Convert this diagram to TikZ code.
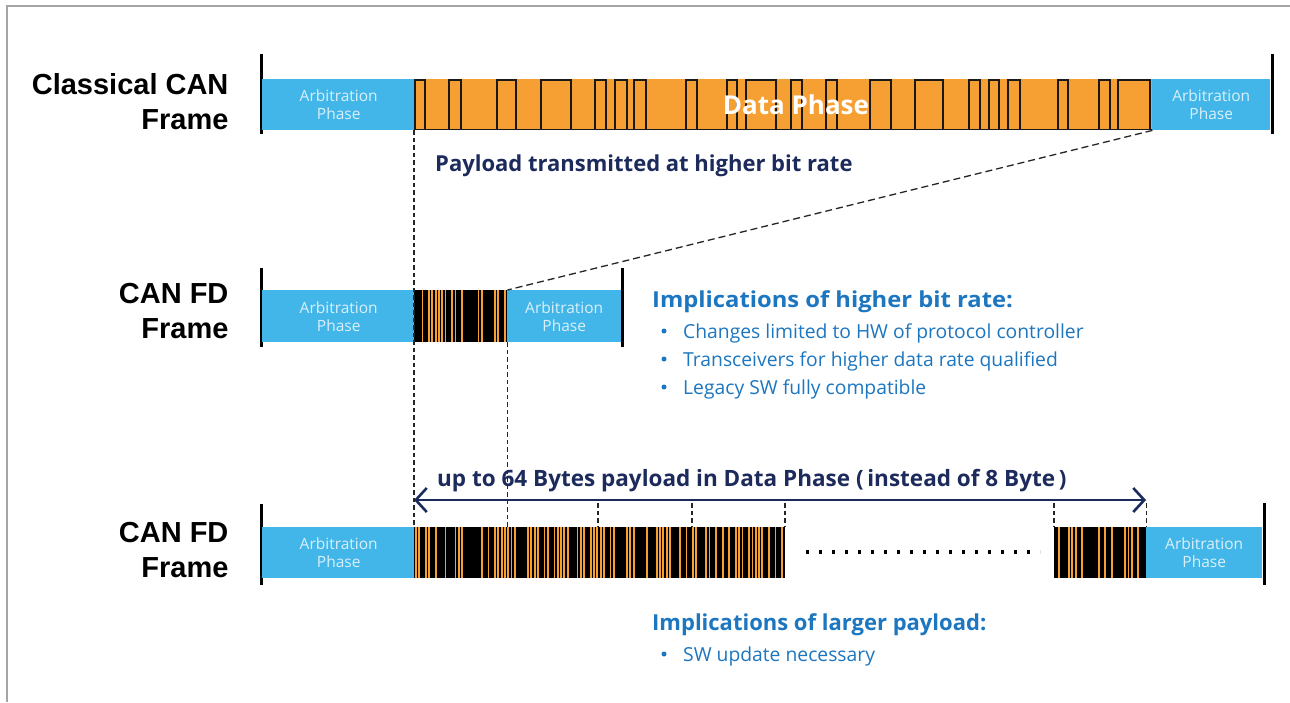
\documentclass[tikz,border=0pt]{standalone}
\usepackage{fontspec}
\setmainfont{Open Sans}
\newfontfamily\labfont{Liberation Sans}
\usetikzlibrary{arrows.meta,calc}
\definecolor{canblue}{RGB}{66,182,232}
\definecolor{canorange}{RGB}{246,160,52}
\definecolor{navy}{RGB}{28,42,92}
\definecolor{txtblue}{RGB}{28,118,192}
\definecolor{framegrey}{RGB}{165,165,165}
\newcommand\mybarcode[5]{%
  \pgfmathsetseed{#5}%
  \pgfmathtruncatemacro\nst{#3/3.3-1}%
  \foreach \k in {0,...,\nst}{%
    \pgfmathtruncatemacro\on{rnd<0.62}%
    \ifnum\on=1 \fill[canorange] ({#1+0.9+\k*3.3},#2) rectangle ++(1.8,#4);\fi
  }%
}
\begin{document}
\begin{tikzpicture}[x=1pt,y=-1pt,
  phase/.style={fill=canblue, inner sep=0pt, anchor=north west, text=white!80!canblue,
    font=\fontsize{15.5}{18}\selectfont, align=center},
  datab/.style={fill=canorange, inner sep=0pt, anchor=north west},
  densedata/.style={fill=black, inner sep=0pt, anchor=north west},
  framebar/.style={fill=black, inner sep=0pt, minimum width=3pt, anchor=north},
  framelabel/.style={font=\labfont\bfseries\fontsize{29}{35}\selectfont, align=right, anchor=east},
  headline/.style={font=\bfseries\fontsize{22}{26}\selectfont, text=navy, anchor=base west, inner sep=0pt},
  implhead/.style={font=\bfseries\fontsize{22}{26}\selectfont, text=txtblue, anchor=base west, inner sep=0pt},
  bullet/.style={font=\fontsize{19.3}{23}\selectfont, text=txtblue, anchor=base west, inner sep=0pt},
  dot/.style={circle, fill=txtblue, inner sep=0pt, minimum size=5pt},
  guide/.style={dash pattern=on 4.5pt off 3pt, line width=1.1pt, black!85},
  zoomline/.style={dash pattern=on 7pt off 4pt, line width=1.3pt, black!85},
  pulse/.style={line width=1.4pt, black!90}
]
\useasboundingbox (0,0) rectangle (1290,702);
\fill[white] (0,0) rectangle (1290,702);
\draw[framegrey, line width=1.6pt] (7,702) -- (7,6) -- (1290,6);

% ---------- Row 1: Classical CAN ----------
\node[framelabel] (l1) at (232,102) {Classical CAN\\Frame};
\node[framebar, minimum height=80pt] (b1l) at (261,54) {};
\node[framebar, minimum height=80pt] (b1r) at (1272,54) {};
\node[phase, minimum width=153pt, minimum height=51pt] (a1l) at (262,79) {Arbitration\\Phase};
\node[datab, minimum width=738pt, minimum height=51pt] (d1) at (414,79) {};
\node[phase, minimum width=118pt, minimum height=51pt] (a1r) at (1152,79) {Arbitration\\Phase};
\draw[pulse] (414,129.5) -- (1152,129.5);
\foreach \a/\b in {415/425,449/461,497/516,541/571,595/606,615/627,634/646,686/697,727/737,746/776,791/802,826/837,870/891,915/943,969/980,989/999,1008/1020,1058/1068,1099/1110,1118/1150}
  \draw[pulse] (\a,129.5) -- (\a,80) -- (\b,80) -- (\b,129.5);
\node[text=white, font=\bfseries\fontsize{26}{31}\selectfont, inner sep=0pt] (dp) at (796,105) {Data Phase};
\node[headline] (pl) at (435,171) {Payload transmitted at higher bit rate};

% ---------- Row 2: CAN FD ----------
\node[framelabel] (l2) at (232,311) {CAN FD\\Frame};
\node[framebar, minimum height=79pt] (b2l) at (261,268) {};
\node[framebar, minimum height=79pt] (b2r) at (622,268) {};
\node[phase, minimum width=153pt, minimum height=52pt] (a2l) at (262,290) {Arbitration\\Phase};
\node[densedata, minimum width=93pt, minimum height=52pt] (d2) at (414,290) {};
\mybarcode{414}{290}{93}{52}{11}
\node[phase, minimum width=114pt, minimum height=52pt] (a2r) at (507,290) {Arbitration\\Phase};

\node[implhead] (ih1) at (652,307) {\scalebox{1.08}[1]{Implications of higher bit rate:}};
\node[dot] (bd1) at (664,331) {};
\node[bullet] (bt1) at (683,338) {Changes limited to HW of protocol controller};
\node[dot] (bd2) at (664,359) {};
\node[bullet] (bt2) at (683,366) {Transceivers for higher data rate qualified};
\node[dot] (bd3) at (664,387) {};
\node[bullet] (bt3) at (683,394) {Legacy SW fully compatible};

% ---------- Row 3: CAN FD 64 bytes ----------
\node[framelabel] (l3) at (232,550) {CAN FD\\Frame};
\node[framebar, minimum height=81pt] (b3l) at (261,504) {};
\node[framebar, minimum height=82pt] (b3r) at (1264,503) {};
\node[phase, minimum width=153pt, minimum height=51pt] (a3l) at (262,527) {Arbitration\\Phase};
\node[densedata, minimum width=371pt, minimum height=51pt] (d3a) at (414,527) {};
\mybarcode{414}{527}{371}{51}{23}
\node[densedata, minimum width=92pt, minimum height=51pt] (d3b) at (1054,527) {};
\mybarcode{1054}{527}{92}{51}{37}
\node[phase, minimum width=116pt, minimum height=51pt] (a3r) at (1146,527) {Arbitration\\Phase};
\coordinate (dl) at (806,552);
\coordinate (dr) at (1040,552);
\draw[line width=3.2pt, dash pattern=on 3.2pt off 9.8pt] (dl) -- (dr);

\node[headline, font=\bfseries\fontsize{22.5}{27}\selectfont] (up) at (437,486) {up to 64 Bytes payload in Data Phase (\,instead of 8 Byte\,)};
\coordinate (al) at (414,500);
\coordinate (ar) at (1146,500);
\draw[navy, line width=2.6pt, {Straight Barb[length=11pt,width=24pt]}-{Straight Barb[length=11pt,width=24pt]}] (al) -- (ar);

\node[implhead] (ih2) at (652,630) {Implications of larger payload:};
\node[dot] (bd4) at (664,654) {};
\node[bullet] (bt4) at (683,661) {SW update necessary};

% ---------- guide lines ----------
\draw[zoomline] (d1.south east) -- (d2.north east);
\draw[guide] (d1.south west) -- (d3a.north west);
\draw[guide] (d2.south east) -- (d2.south east |- d3a.north);
\coordinate (t3) at (598,527);
\coordinate (t4) at (692,527);
\coordinate (t5) at (785,527);
\foreach \c in {t3,t4,t5}
  \draw[guide] ($(\c)+(0,-24)$) -- (\c);
\draw[guide] ($(d3b.north west)+(0,-24)$) -- (d3b.north west);
\draw[guide] ($(d3b.north east)+(0,-24)$) -- (d3b.north east);
\end{tikzpicture}
\end{document}
